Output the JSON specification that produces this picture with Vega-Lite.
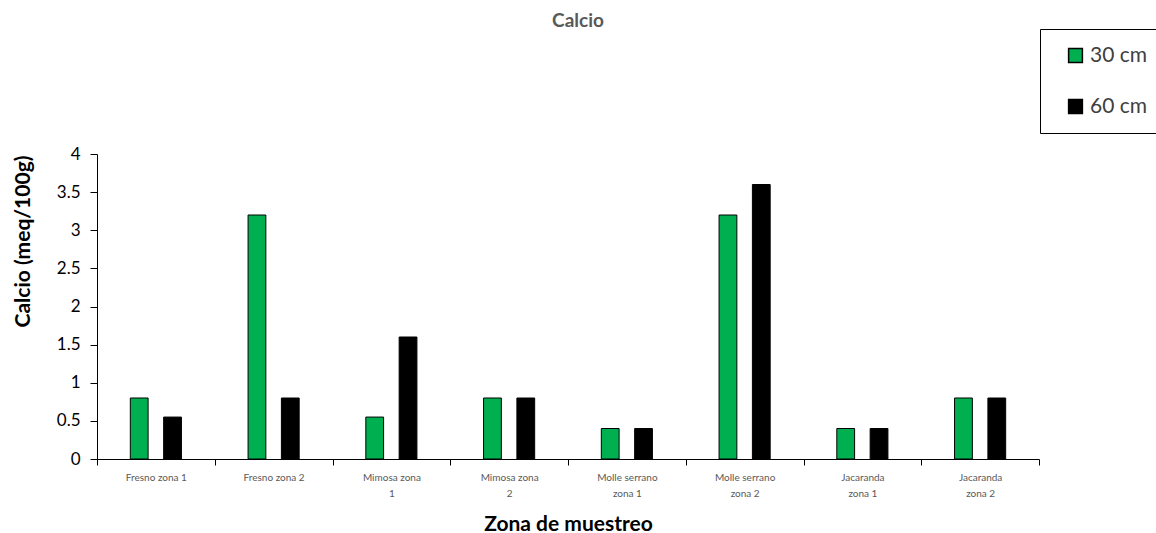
{
  "$schema": "https://vega.github.io/schema/vega-lite/v6.json",
  "width": 942,
  "height": 305,
  "autosize": {"type": "none"},
  "padding": {"left": 97, "top": 154, "right": 117, "bottom": 74},
  "background": "white",
  "config": {"font": "Lato", "view": {"stroke": null}},
  "title": {"text": "Calcio", "fontSize": 19, "fontWeight": "bold", "color": "#595959", "anchor": "middle", "dx": 10, "dy": 19, "offset": 2, "baseline": "alphabetic", "font": "Lato"},
  "data": {"values": [
    {"zona": "Fresno zona 1", "prof": "30 cm", "calcio": 0.8},
    {"zona": "Fresno zona 1", "prof": "60 cm", "calcio": 0.55},
    {"zona": "Fresno zona 2", "prof": "30 cm", "calcio": 3.2},
    {"zona": "Fresno zona 2", "prof": "60 cm", "calcio": 0.8},
    {"zona": "Mimosa zona 1", "prof": "30 cm", "calcio": 0.55},
    {"zona": "Mimosa zona 1", "prof": "60 cm", "calcio": 1.6},
    {"zona": "Mimosa zona 2", "prof": "30 cm", "calcio": 0.8},
    {"zona": "Mimosa zona 2", "prof": "60 cm", "calcio": 0.8},
    {"zona": "Molle serrano zona 1", "prof": "30 cm", "calcio": 0.4},
    {"zona": "Molle serrano zona 1", "prof": "60 cm", "calcio": 0.4},
    {"zona": "Molle serrano zona 2", "prof": "30 cm", "calcio": 3.2},
    {"zona": "Molle serrano zona 2", "prof": "60 cm", "calcio": 3.6},
    {"zona": "Jacaranda zona 1", "prof": "30 cm", "calcio": 0.4},
    {"zona": "Jacaranda zona 1", "prof": "60 cm", "calcio": 0.4},
    {"zona": "Jacaranda zona 2", "prof": "30 cm", "calcio": 0.8},
    {"zona": "Jacaranda zona 2", "prof": "60 cm", "calcio": 0.8}
  ]},
  "mark": {"type": "bar", "stroke": "black", "strokeWidth": 1},
  "encoding": {
    "x": {
      "field": "zona", "type": "nominal", "sort": null,
      "scale": {"paddingInner": 0, "paddingOuter": 0},
      "axis": {
        "title": "Zona de muestreo", "titleFontSize": 21, "titleFontWeight": "bold", "titleColor": "black", "titlePadding": 15,
        "labelAngle": 0, "labelFontSize": 10, "labelColor": "#595959", "labelPadding": 7, "labelLineHeight": 16,
        "tickBand": "extent", "tickSize": 6, "tickColor": "black", "domainColor": "black", "grid": false,
        "labelExpr": "datum.value=='Mimosa zona 1'?['Mimosa zona','1']:datum.value=='Mimosa zona 2'?['Mimosa zona','2']:datum.value=='Molle serrano zona 1'?['Molle serrano','zona 1']:datum.value=='Molle serrano zona 2'?['Molle serrano','zona 2']:datum.value=='Jacaranda zona 1'?['Jacaranda','zona 1']:datum.value=='Jacaranda zona 2'?['Jacaranda','zona 2']:datum.value"
      }
    },
    "xOffset": {"field": "prof", "type": "nominal", "sort": null, "scale": {"paddingInner": 0.4667, "paddingOuter": 1.193}},
    "y": {
      "field": "calcio", "type": "quantitative",
      "scale": {"domain": [0, 4]},
      "axis": {
        "values": [0, 0.5, 1, 1.5, 2, 2.5, 3, 3.5, 4], "format": "~g",
        "title": "Calcio (meq/100g)", "titleFontSize": 21, "titleFontWeight": "bold", "titleColor": "black",
        "titleX": -64, "titleY": 87, "titleAlign": "center", "titleAngle": -90, "titleBaseline": "bottom",
        "labelFontSize": 17, "labelColor": "black", "labelPadding": 10, "tickSize": 7, "tickColor": "black", "domainColor": "black", "grid": false
      }
    },
    "color": {
      "field": "prof", "type": "nominal",
      "scale": {"domain": ["30 cm", "60 cm"], "range": ["#00B050", "#000000"]},
      "legend": {
        "orient": "none", "legendX": 943, "legendY": -125, "title": null,
        "strokeColor": "black", "fillColor": "white", "padding": 16, "symbolOffset": 9,
        "symbolType": "square", "symbolSize": 190, "symbolStrokeColor": "black", "symbolStrokeWidth": 1.5,
        "labelFontSize": 21, "labelColor": "#404040", "labelOffset": 4, "rowPadding": 29
      }
    }
  }
}
